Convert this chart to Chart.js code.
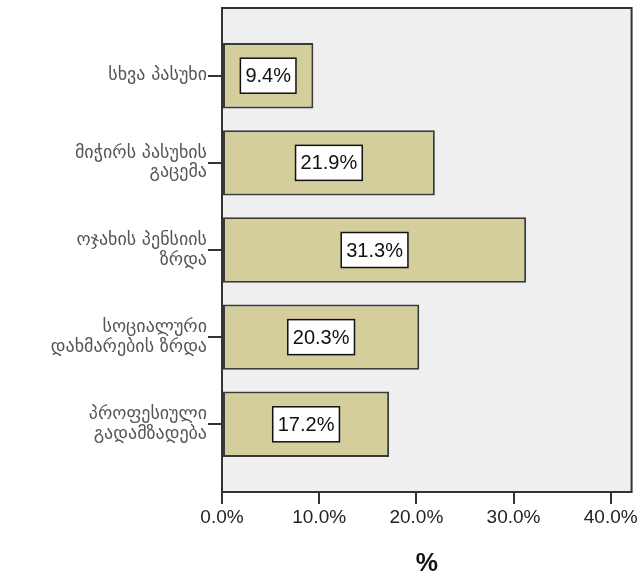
<!DOCTYPE html>
<html>
<head>
<meta charset="utf-8">
<script src="https://cdn.jsdelivr.net/npm/chart.js@4"></script>
<style>
    html, body { margin: 0; padding: 0; background: #fff; }
    #wrap { width: 640px; height: 581px; }
</style>
</head>
<body>
<div id="wrap"><canvas id="chart" width="640" height="581"></canvas></div>
<script>
// answers (Georgian), one entry per bar, split into label lines
const categories = [
    ['სხვა პასუხი'],
    ['მიჭირს პასუხის', 'გაცემა'],
    ['ოჯახის პენსიის', 'ზრდა'],
    ['სოციალური', 'დახმარების ზრდა'],
    ['პროფესიული', 'გადამზადება']
];
const percents = [9.4, 21.9, 31.3, 20.3, 17.2];
const xTicks = [0, 10, 20, 30, 40];
const xMax = 42.15;

const BAR_FILL = '#D4CE9C';
const LINE = '#333333';

// plot background + frame, SPSS style
const framePlugin = {
    id: 'frame',
    beforeDraw(chart) {
        const { ctx, chartArea: a } = chart;
        ctx.save();
        ctx.fillStyle = '#EFEFEF';
        ctx.fillRect(a.left, a.top, a.right - a.left, a.bottom - a.top);
        ctx.restore();
    },
    afterDatasetsDraw(chart) {
        const { ctx, chartArea: a } = chart;
        ctx.save();
        ctx.strokeStyle = LINE;
        ctx.lineWidth = 2;
        ctx.strokeRect(a.left, a.top, a.right - a.left, a.bottom - a.top);
        ctx.restore();
    }
};

// boxed value labels in the middle of each bar
const valueBoxes = {
    id: 'valueBoxes',
    afterDraw(chart) {
        const { ctx } = chart;
        const meta = chart.getDatasetMeta(0);
        ctx.save();
        ctx.font = '20px "Liberation Sans", Arial, sans-serif';
        ctx.textAlign = 'center';
        ctx.textBaseline = 'middle';
        meta.data.forEach((bar, i) => {
            const txt = percents[i].toFixed(1) + '%';
            const cx = (bar.x + bar.base) / 2;
            const cy = bar.y;
            const w = ctx.measureText(txt).width + 10;
            const h = 35;
            ctx.fillStyle = '#fff';
            ctx.fillRect(cx - w / 2, cy - h / 2, w, h);
            ctx.strokeStyle = '#111';
            ctx.lineWidth = 1.5;
            ctx.strokeRect(cx - w / 2, cy - h / 2, w, h);
            ctx.fillStyle = '#111';
            ctx.fillText(txt, cx, cy + 1);
        });
        ctx.restore();
    }
};

new Chart(document.getElementById('chart'), {
    type: 'bar',
    data: {
        datasets: [{
            data: percents.map((v, i) => ({ x: v, y: i })),
            backgroundColor: BAR_FILL,
            borderColor: '#3a3a3a',
            borderWidth: 2,
            borderSkipped: false,
            barPercentage: 0.75,
            categoryPercentage: 1
        }]
    },
    options: {
        indexAxis: 'y',
        responsive: false,
        animation: false,
        layout: { padding: { top: 8, right: 7, left: 0, bottom: 0 } },
        scales: {
            x: {
                type: 'linear',
                min: 0,
                max: xMax,
                afterBuildTicks: (s) => { s.ticks = xTicks.map(v => ({ value: v })); },
                afterFit: (s) => { s.height = 89; },
                ticks: {
                    color: '#222',
                    padding: 2,
                    font: { size: 19, family: '"Liberation Sans", Arial, sans-serif' },
                    callback: (v) => v.toFixed(1) + '%'
                },
                grid: { drawOnChartArea: false, tickLength: 12, color: LINE, lineWidth: 2 },
                border: { display: false },
                title: {
                    display: true,
                    text: '%',
                    color: '#111',
                    padding: { top: 0, bottom: 2 },
                    font: { size: 25, weight: 'bold', family: '"Liberation Sans", Arial, sans-serif' }
                }
            },
            y: {
                type: 'linear',
                reverse: true,
                offset: false,
                min: -0.777,
                max: categories.length - 1 + 0.777,
                afterBuildTicks: (s) => { s.ticks = categories.map((c, i) => ({ value: i })); },
                afterFit: (s) => { s.width = 222; s.paddingTop = 0; s.paddingBottom = 0; },
                ticks: {
                    color: '#555',
                    padding: 1,
                    font: { size: 18, family: '"DejaVu Sans", sans-serif', lineHeight: 1.1 },
                    callback: (v) => categories[v]
                },
                grid: { offset: false, drawOnChartArea: false, tickLength: 14, color: LINE, lineWidth: 2 },
                border: { display: false }
            }
        },
        plugins: {
            legend: { display: false },
            tooltip: { enabled: false }
        }
    },
    plugins: [framePlugin, valueBoxes]
});
</script>
</body>
</html>
